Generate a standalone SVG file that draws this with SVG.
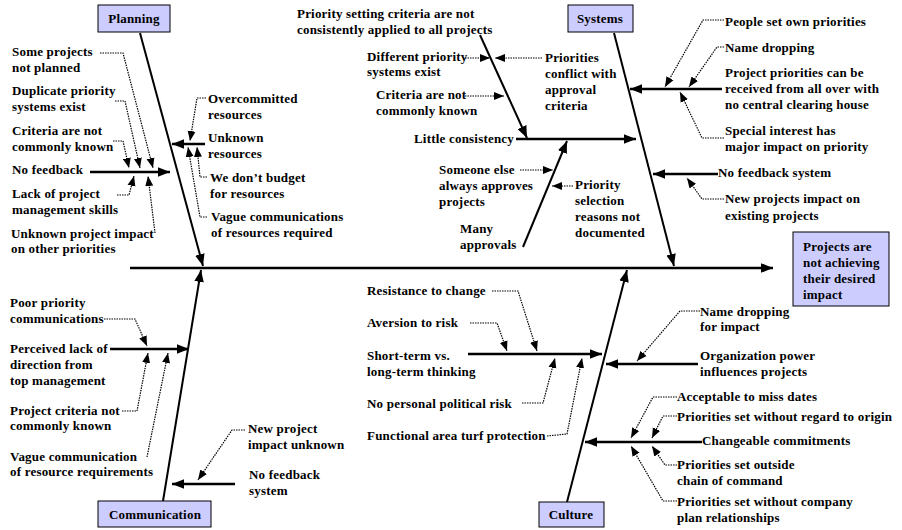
<svg xmlns="http://www.w3.org/2000/svg" width="902" height="530" viewBox="0 0 902 530">
<defs>
<style>
text{font-family:"Liberation Serif","Times New Roman",serif;font-weight:bold;font-size:13px;letter-spacing:0.2px;fill:#000}
.box{fill:#ccccff;stroke:#000;stroke-width:1}
.spine{stroke:#000;stroke-width:2.5;fill:none}
.bone{stroke:#000;stroke-width:2;fill:none}
.br{stroke:#000;stroke-width:2.5;fill:none}
.dot{stroke:#000;stroke-width:1.2;stroke-dasharray:1.5 1;fill:none}
.big{marker-end:url(#ab)}
.sm{marker-end:url(#as)}
.ctr{text-anchor:middle}
</style>
<marker id="ab" viewBox="0 0 10 8" refX="10" refY="4" markerWidth="12" markerHeight="10" orient="auto" markerUnits="userSpaceOnUse"><path d="M0,0 L10,4 L0,8 z" fill="#000"/></marker>
<marker id="as" viewBox="0 0 10 8" refX="10" refY="4" markerWidth="10" markerHeight="9" orient="auto" markerUnits="userSpaceOnUse"><path d="M0,0 L10,4 L0,8 z" fill="#000"/></marker>
</defs>
<rect width="902" height="530" fill="#fff"/>

<g id="connectors">
<path class="spine big" d="M130,268 L773,268"/>
<path class="bone big" d="M140,33 L203,266"/>
<path class="bone big" d="M614,33 L674,266"/>
<path class="bone big" d="M163,501 L201,270"/>
<path class="bone big" d="M567,502 L627,270"/>

<path class="br big" d="M90,172 L170,172"/>
<path class="dot sm" d="M100,53 L123,53 L153,168"/>
<path class="dot sm" d="M115,101 L125,101 L140,168"/>
<path class="dot sm" d="M113,141 L123,141 L129,168"/>
<path class="dot sm" d="M117,195 L129,195 L134,176"/>
<path class="dot sm" d="M155,233 L148,176"/>
<path class="br big" d="M205,144 L172,144"/>
<path class="dot sm" d="M206,98 L197,98 L190,141"/>
<path class="dot sm" d="M207,177 L200,177 L197,147"/>
<path class="dot sm" d="M207,217 L200,217 L188,147"/>

<path class="bone big" d="M480,35 L527,138"/>
<path class="br big" d="M516,139 L636,139"/>
<path class="bone big" d="M523,247 L567,141"/>
<path class="dot sm" d="M465,58 L490,58"/>
<path class="dot sm" d="M542,58 L495,58"/>
<path class="dot sm" d="M465,96 L504,96"/>
<path class="dot sm" d="M520,170 L553,170"/>
<path class="dot sm" d="M573,186 L552,186"/>
<path class="br big" d="M722,89 L630,89"/>
<path class="dot sm" d="M724,20 L703,20 L665,87"/>
<path class="dot sm" d="M724,47 L717,47 L689,87"/>
<path class="dot sm" d="M724,138 L702,138 L680,92"/>
<path class="br big" d="M718,174 L653,174"/>
<path class="dot sm" d="M724,199 L702,199 L687,178"/>

<path class="br big" d="M110,349 L189,349"/>
<path class="dot sm" d="M104,319 L135,319 L147,346"/>
<path class="dot sm" d="M122,411 L137,411 L148,353"/>
<path class="dot sm" d="M147,457 L168,353"/>
<path class="br big" d="M235,484 L172,484"/>
<path class="dot sm" d="M245,430 L232,430 L198,480"/>

<path class="br big" d="M468,354 L602,354"/>
<path class="dot sm" d="M492,291 L518,291 L537,351"/>
<path class="dot sm" d="M470,323 L497,323 L507,351"/>
<path class="dot sm" d="M522,403 L543,403 L555,358"/>
<path class="dot sm" d="M547,436 L567,434 L582,358"/>
<path class="br big" d="M698,364 L606,364"/>
<path class="dot sm" d="M700,311 L680,311 L637,361"/>
<path class="br big" d="M702,442 L585,442"/>
<path class="dot sm" d="M677,397 L653,397 L631,438"/>
<path class="dot sm" d="M677,416 L663,416 L652,438"/>
<path class="dot sm" d="M677,465 L665,465 L652,446"/>
<path class="dot sm" d="M677,501 L663,501 L631,446"/>
</g>

<g id="planning"><rect class="box" x="98" y="5" width="72" height="27"/><text class="ctr" x="134" y="23">Planning</text></g>
<g id="systems"><rect class="box" x="568" y="5" width="65" height="27"/><text class="ctr" x="600" y="23">Systems</text></g>
<g id="communication"><rect class="box" x="98" y="501" width="113" height="26"/><text class="ctr" x="155" y="519">Communication</text></g>
<g id="culture"><rect class="box" x="539" y="502" width="65" height="25"/><text class="ctr" x="571" y="519">Culture</text></g>
<g id="effect"><rect class="box" x="793" y="232" width="96" height="74"/>
<text x="803" y="251">Projects are</text><text x="803" y="267">not achieving</text><text x="803" y="283">their desired</text><text x="803" y="299">impact</text></g>

<g id="planning-causes">
<text x="12" y="56">Some projects</text><text x="12" y="72">not planned</text>
<text x="12" y="95">Duplicate priority</text><text x="12" y="111">systems exist</text>
<text x="12" y="135">Criteria are not</text><text x="12" y="151">commonly known</text>
<text x="12" y="174">No feedback</text>
<text x="12" y="198">Lack of project</text><text x="12" y="214">management skills</text>
<text x="11" y="238">Unknown project impact</text><text x="11" y="253">on other priorities</text>
<text x="208" y="103">Overcommitted</text><text x="208" y="119">resources</text>
<text x="208" y="142">Unknown</text><text x="208" y="158">resources</text>
<text x="210" y="182">We don’t budget</text><text x="210" y="198">for resources</text>
<text x="211" y="221">Vague communications</text><text x="211" y="237">of resources required</text>
</g>

<g id="systems-causes">
<text x="297" y="18">Priority setting criteria are not</text><text x="297" y="34">consistently applied to all projects</text>
<text x="367" y="61">Different priority</text><text x="367" y="76">systems exist</text>
<text x="376" y="99">Criteria are not</text><text x="376" y="115">commonly known</text>
<text x="414" y="143">Little consistency</text>
<text x="545" y="62">Priorities</text><text x="545" y="78">conflict with</text><text x="545" y="94">approval</text><text x="545" y="110">criteria</text>
<text x="439" y="174">Someone else</text><text x="439" y="190">always approves</text><text x="439" y="206">projects</text>
<text x="575" y="189">Priority</text><text x="575" y="205">selection</text><text x="575" y="221">reasons not</text><text x="575" y="237">documented</text>
<text x="460" y="233">Many</text><text x="460" y="249">approvals</text>
<text x="725" y="26">People set own priorities</text>
<text x="725" y="52">Name dropping</text>
<text x="725" y="77">Project priorities can be</text><text x="725" y="93">received from all over with</text><text x="725" y="109">no central clearing house</text>
<text x="725" y="135">Special interest has</text><text x="725" y="151">major impact on priority</text>
<text x="718" y="177">No feedback system</text>
<text x="725" y="203">New projects impact on</text><text x="725" y="220">existing projects</text>
</g>

<g id="communication-causes">
<text x="10" y="307">Poor priority</text><text x="10" y="323">communications</text>
<text x="10" y="353">Perceived lack of</text><text x="10" y="369">direction from</text><text x="10" y="385">top management</text>
<text x="10" y="415">Project criteria not</text><text x="10" y="430">commonly known</text>
<text x="10" y="461">Vague communication</text><text x="10" y="476">of resource requirements</text>
<text x="248" y="433">New project</text><text x="248" y="449">impact unknown</text>
<text x="249" y="479">No feedback</text><text x="249" y="495">system</text>
</g>

<g id="culture-causes">
<text x="367" y="295">Resistance to change</text>
<text x="367" y="327">Aversion to risk</text>
<text x="367" y="360">Short-term vs.</text><text x="367" y="376">long-term thinking</text>
<text x="367" y="408">No personal political risk</text>
<text x="367" y="440">Functional area turf protection</text>
<text x="700" y="316">Name dropping</text><text x="700" y="331">for impact</text>
<text x="700" y="360">Organization power</text><text x="700" y="376">influences projects</text>
<text x="677" y="401">Acceptable to miss dates</text>
<text x="677" y="421">Priorities set without regard to origin</text>
<text x="702" y="445">Changeable commitments</text>
<text x="677" y="469">Priorities set outside</text><text x="677" y="485">chain of command</text>
<text x="677" y="506">Priorities set without company</text><text x="677" y="522">plan relationships</text>
</g>
</svg>
